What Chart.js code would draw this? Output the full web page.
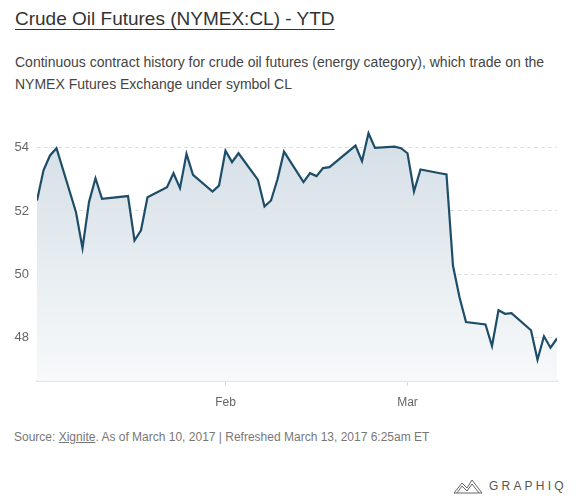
<!DOCTYPE html>
<html lang="en">
<head>
  <meta charset="UTF-8">
  <title>Crude Oil Futures (NYMEX:CL) - YTD</title>
  <script src="https://cdn.jsdelivr.net/npm/chart.js"></script>
  <style>
    body { margin: 0; width: 576px; height: 498px; background: #fff; font-family: "Liberation Sans", Arial, Helvetica, sans-serif; position: relative; overflow: hidden; }
    .title { position: absolute; left: 15px; top: 8px; font-size: 19px; color: #333; text-decoration: underline; text-underline-offset: 4px; text-decoration-thickness: 1px; white-space: nowrap; }
    .subtitle { position: absolute; left: 15px; top: 51px; font-size: 14px; line-height: 22px; color: #444; width: 560px; }
    .chart-box { position: absolute; left: 0; top: 100px; width: 576px; height: 310px; }
    .source { position: absolute; left: 14px; top: 430px; font-size: 12px; color: #777; white-space: nowrap; }
    .source u { color: #777; }
    .logo { position: absolute; left: 453px; top: 477px; height: 18px; display: flex; align-items: center; }
    .logo span { font-size: 12px; letter-spacing: 3.2px; color: #555; margin-left: 6px; }
  </style>
</head>
<body>
  <div class="title">Crude Oil Futures (NYMEX:CL) - YTD</div>
  <div class="subtitle">Continuous contract history for crude oil futures (energy category), which trade on the NYMEX Futures Exchange under symbol CL</div>

  <div class="chart-box">
    <canvas id="oilChart"></canvas>
  </div>

  <div class="source">Source: <u>Xignite</u>. As of March 10, 2017 | Refreshed March 13, 2017 6:25am ET</div>
  <div class="logo">
    <svg width="30" height="16" viewBox="0 0 30 16">
      <polyline points="1,15 9,5 14,10 19,2 29,15" fill="none" stroke="#666" stroke-width="1"/>
      <polyline points="4,15 9,8 14,13 19,6 26,15" fill="none" stroke="#666" stroke-width="1"/>
      <polyline points="1,15 29,15" fill="none" stroke="#666" stroke-width="1"/>
    </svg>
    <span>GRAPHIQ</span>
  </div>

  <script>
    // trading days and settle prices
    const dates = [
      '2017-01-03', '2017-01-04', '2017-01-05', '2017-01-06', '2017-01-09', '2017-01-10',
      '2017-01-11', '2017-01-12', '2017-01-13', '2017-01-17', '2017-01-18', '2017-01-19',
      '2017-01-20', '2017-01-23', '2017-01-24', '2017-01-25', '2017-01-26', '2017-01-27',
      '2017-01-30', '2017-01-31', '2017-02-01', '2017-02-02', '2017-02-03', '2017-02-06',
      '2017-02-07', '2017-02-08', '2017-02-09', '2017-02-10', '2017-02-13', '2017-02-14',
      '2017-02-15', '2017-02-16', '2017-02-17', '2017-02-21', '2017-02-22', '2017-02-23',
      '2017-02-24', '2017-02-27', '2017-02-28', '2017-03-01', '2017-03-02', '2017-03-03',
      '2017-03-06', '2017-03-07', '2017-03-08', '2017-03-09', '2017-03-10', '2017-03-13',
      '2017-03-14', '2017-03-15', '2017-03-16', '2017-03-17', '2017-03-20', '2017-03-21',
      '2017-03-22', '2017-03-23', '2017-03-24'
    ];
    const prices = [
      52.33, 53.28, 53.75, 53.98, 51.96, 50.83,
      52.28, 53.03, 52.38, 52.47, 51.07, 51.39,
      52.43, 52.75, 53.19, 52.72, 53.80, 53.14,
      52.61, 52.80, 53.90, 53.54, 53.82, 52.98,
      52.14, 52.33, 53.00, 53.87, 52.91, 53.19,
      53.10, 53.35, 53.38, 54.06, 53.57, 54.45,
      53.99, 54.03, 53.98, 53.82, 52.62, 53.31,
      53.19, 53.15, 50.27, 49.28, 48.50, 48.42,
      47.74, 48.87, 48.76, 48.78, 48.24, 47.31,
      48.05, 47.69, 47.98
    ];
    const monthTickDates = ['2017-02-01', '2017-03-01'];
    const monthTickLabels = ['Feb', 'Mar'];
    const yTicks = [48, 50, 52, 54];

    // day of year (Jan 1 = 0)
    function dayNum(s) {
      const p = s.split('-').map(Number);
      return (Date.UTC(p[0], p[1] - 1, p[2]) - Date.UTC(2017, 0, 1)) / 86400000;
    }
    const points = dates.map(function(d, i) { return { x: dayNum(d), y: prices[i] }; });
    const monthTicks = monthTickDates.map(dayNum);

    const ctx = document.getElementById('oilChart').getContext('2d');
    new Chart(ctx, {
      type: 'line',
      data: {
        datasets: [{
          data: points,
          borderColor: '#1d4d68',
          borderWidth: 2.2,
          pointRadius: 0,
          tension: 0,
          fill: 'start',
          backgroundColor: function(context) {
            const chart = context.chart;
            const area = chart.chartArea;
            if (!area) return 'rgba(0,0,0,0)';
            const g = chart.ctx.createLinearGradient(0, area.top, 0, area.bottom);
            g.addColorStop(0, '#d2dde5');
            g.addColorStop(1, '#f7f9fa');
            return g;
          }
        }]
      },
      options: {
        responsive: true,
        maintainAspectRatio: false,
        animation: false,
        layout: { padding: { left: 0, right: 19, top: 15, bottom: 0 } },
        plugins: { legend: { display: false }, tooltip: { enabled: false } },
        scales: {
          x: {
            type: 'linear',
            min: dayNum(dates[0]),
            max: dayNum(dates[dates.length - 1]),
            afterBuildTicks: function(scale) {
              scale.ticks = monthTicks.map(function(v) { return { value: v }; });
            },
            afterFit: function(scale) { scale.height = 29; },
            grid: { drawOnChartArea: false, drawTicks: true, tickLength: 5, color: '#d6d9dc' },
            border: { display: true, color: '#e2e6ea', width: 2 },
            ticks: {
              autoSkip: false,
              maxRotation: 0,
              padding: 9,
              color: '#666',
              font: { family: '"Liberation Sans", Arial, sans-serif', size: 12 },
              callback: function(value) {
                const i = monthTicks.indexOf(value);
                return i >= 0 ? monthTickLabels[i] : '';
              }
            }
          },
          y: {
            min: 46.64,
            max: 55,
            afterBuildTicks: function(scale) {
              scale.ticks = yTicks.map(function(v) { return { value: v }; });
            },
            afterFit: function(scale) { scale.width = 37; },
            grid: { color: '#dedede', drawTicks: false },
            border: { display: false, dash: [4, 3] },
            ticks: {
              padding: 8,
              color: '#666',
              font: { family: '"Liberation Sans", Arial, sans-serif', size: 13 }
            }
          }
        }
      }
    });
  </script>
</body>
</html>
